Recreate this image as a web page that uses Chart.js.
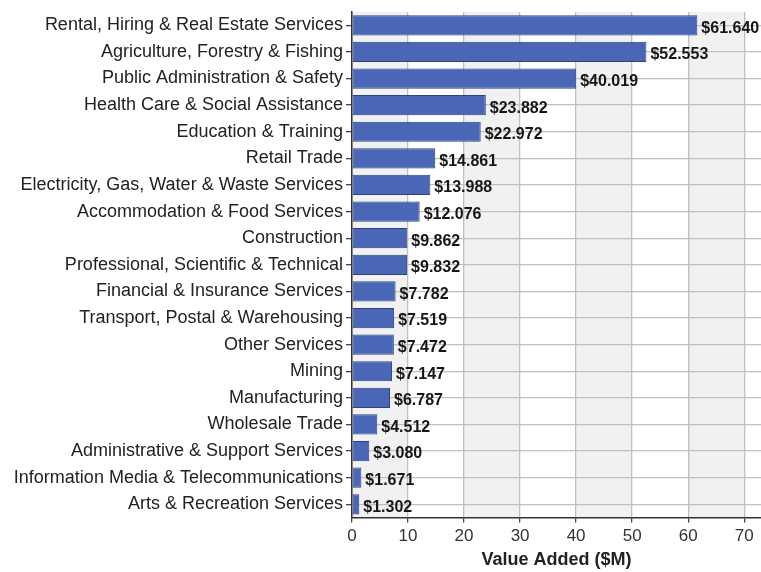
<!DOCTYPE html>
<html>
<head>
<meta charset="utf-8">
<script src="https://cdn.jsdelivr.net/npm/chart.js@4"></script>
<style>
  html, body { margin: 0; padding: 0; background: #fff; }
  #wrap { width: 761px; height: 572px; }
</style>
</head>
<body>
<div id="wrap"><canvas id="industryChart" width="761" height="572"></canvas></div>
<script>
const industries = [
    "Rental, Hiring & Real Estate Services",
    "Agriculture, Forestry & Fishing",
    "Public Administration & Safety",
    "Health Care & Social Assistance",
    "Education & Training",
    "Retail Trade",
    "Electricity, Gas, Water & Waste Services",
    "Accommodation & Food Services",
    "Construction",
    "Professional, Scientific & Technical",
    "Financial & Insurance Services",
    "Transport, Postal & Warehousing",
    "Other Services",
    "Mining",
    "Manufacturing",
    "Wholesale Trade",
    "Administrative & Support Services",
    "Information Media & Telecommunications",
    "Arts & Recreation Services"
];
const valueAdded = [61.640, 52.553, 40.019, 23.882, 22.972, 14.861, 13.988, 12.076, 9.862, 9.832,
    7.782, 7.519, 7.472, 7.147, 6.787, 4.512, 3.080, 1.671, 1.302];
const xTicks = [0, 10, 20, 30, 40, 50, 60, 70];
const shadedBands = [[0, 10], [20, 30], [40, 50], [60, 70]];

const FONT = "'Liberation Sans', Arial, sans-serif";

// light vertical stripes behind the bars
const bandPlugin = {
    id: "bands",
    beforeDraw(chart) {
        const { ctx, chartArea, scales } = chart;
        ctx.save();
        ctx.fillStyle = "#f1f1f1";
        shadedBands.forEach(([a, b]) => {
            const x1 = scales.x.getPixelForValue(a);
            const x2 = scales.x.getPixelForValue(b);
            ctx.fillRect(x1, chartArea.top, x2 - x1, chartArea.bottom - chartArea.top);
        });
        ctx.restore();
    }
};

// "$xx.xxx" labels at the end of each bar
const valueLabels = {
    id: "valueLabels",
    afterDatasetsDraw(chart) {
        const { ctx } = chart;
        const meta = chart.getDatasetMeta(0);
        ctx.save();
        ctx.font = "bold 16px " + FONT;
        ctx.fillStyle = "#161616";
        ctx.textAlign = "left";
        ctx.textBaseline = "middle";
        meta.data.forEach((bar, i) => {
            ctx.fillText("$" + valueAdded[i].toFixed(3), bar.x + 4, bar.y + 3);
        });
        ctx.restore();
    }
};

new Chart(document.getElementById("industryChart"), {
    type: "bar",
    data: {
        labels: industries,
        datasets: [{
            data: valueAdded,
            backgroundColor: "#4a66b7",
            borderColor: "#2e4280",
            borderWidth: 1,
            borderSkipped: false,
            barPercentage: 0.76,
            categoryPercentage: 1.0
        }]
    },
    options: {
        indexAxis: "y",
        responsive: false,
        animation: false,
        layout: { padding: { top: 12, right: 0, bottom: 3, left: 0 } },
        plugins: {
            legend: { display: false },
            tooltip: { enabled: false }
        },
        scales: {
            x: {
                min: 0,
                max: 73,
                afterBuildTicks(scale) {
                    scale.ticks = xTicks.map(v => ({ value: v }));
                },
                grid: {
                    color: "#c0c0c0",
                    tickColor: "#444",
                    tickLength: 5,
                    lineWidth: 1.3
                },
                border: { color: "#333", width: 1.5 },
                ticks: {
                    color: "#333",
                    font: { family: FONT, size: 17 },
                    padding: 4,
                    maxRotation: 0
                },
                title: {
                    display: true,
                    text: "Value Added ($M)",
                    color: "#222",
                    font: { family: FONT, size: 18, weight: "bold", lineHeight: 1.0 },
                    padding: { top: 0, bottom: 0 }
                }
            },
            y: {
                afterFit(scale) {
                    scale.width = 352;
                    scale.paddingTop = 0;
                    scale.paddingBottom = 0;
                },
                grid: {
                    offset: false,
                    color: "#c0c0c0",
                    tickColor: "#444",
                    tickLength: 6,
                    lineWidth: 1.3
                },
                border: { color: "#333", width: 1.5 },
                ticks: {
                    color: "#222",
                    font: { family: FONT, size: 18 },
                    padding: 3,
                    autoSkip: false
                }
            }
        }
    },
    plugins: [bandPlugin, valueLabels]
});
</script>
</body>
</html>
